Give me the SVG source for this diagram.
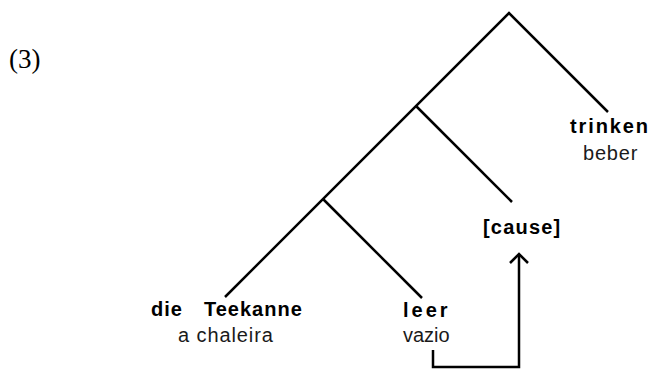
<svg xmlns="http://www.w3.org/2000/svg" width="653" height="371" viewBox="0 0 653 371">
<style>
.b{font-family:"Liberation Sans",Arial,sans-serif;font-size:20px;font-weight:bold;fill:#000}
.r{font-family:"Liberation Sans",Arial,sans-serif;font-size:20px;fill:#1a1a1a}
.l{stroke:#000;stroke-width:2.5;fill:none}
</style>
<rect width="653" height="371" fill="#fff"/>
<text x="9" y="68" font-family="Liberation Serif,serif" font-size="27">(3)</text>
<g id="connectors">
<polyline class="l" points="225,297 509,13 608,112"/>
<line class="l" x1="416" y1="106" x2="512" y2="202"/>
<line class="l" x1="323" y1="199" x2="422" y2="298"/>
<polyline class="l" points="433,350 433,367 519,367 519,254"/>
<polyline class="l" points="510,263 519,254 528,263"/>
</g>
<g id="teekanne"><text class="b" x="151" y="316" letter-spacing="1">die</text><text class="b" x="204" y="316" letter-spacing="1">Teekanne</text><text class="r" x="178" y="342" letter-spacing="0.9">a chaleira</text></g>
<g id="leer"><text class="b" x="403" y="317" letter-spacing="3">leer</text><text class="r" x="403" y="342">vazio</text></g>
<g id="cause"><text class="b" x="483" y="234" letter-spacing="1.2">[cause]</text></g>
<g id="trinken"><text class="b" x="570" y="133" letter-spacing="1.9">trinken</text><text class="r" x="583" y="160" letter-spacing="0.8">beber</text></g>
</svg>
